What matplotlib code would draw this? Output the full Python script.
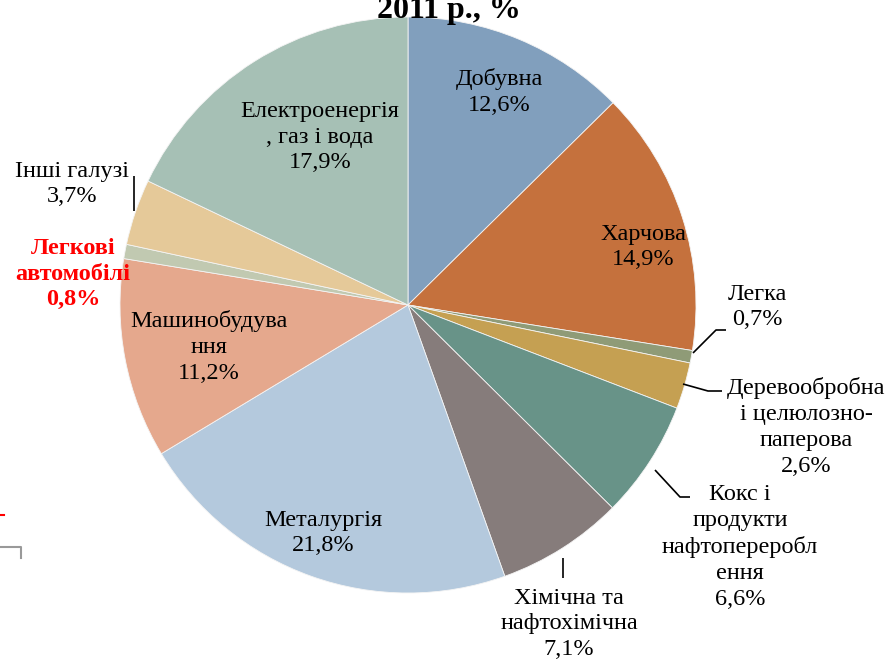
import matplotlib.pyplot as plt

plt.rcParams['font.family'] = ['Liberation Serif', 'DejaVu Serif']

W, H = 887, 661

# data
sectors = ["Добувна", "Харчова", "Легка", "Деревообробна\nі целюлозно-\nпаперова",
           "Кокс і\nпродукти\nнафтоперероблення", "Хімічна та\nнафтохімічна",
           "Металургія", "Машинобудування", "Легкові\nавтомобілі",
           "Інші галузі", "Електроенергія, газ і вода"]
shares = [12.6, 14.9, 0.7, 2.6, 6.6, 7.1, 21.8, 11.2, 0.8, 3.7, 17.9]
colors = ["#819FBD", "#C5713D", "#8F9B77", "#C5A052", "#689388", "#867C7B",
          "#B4C9DD", "#E5A88D", "#C1C9B1", "#E5C999", "#A6C0B5"]

# label text as laid out in the picture (with the word breaks of the original)
label_lines = ["Добувна", "Харчова", "Легка", "Деревообробна\nі целюлозно-\nпаперова",
               "Кокс і\nпродукти\nнафтопереробл\nення", "Хімічна та\nнафтохімічна",
               "Металургія", "Машинобудува\nння", "Легкові\nавтомобілі",
               "Інші галузі", "Електроенергія\n, газ і вода"]
# label centres in pixels (x, y from top)
label_pos = [(499, 92), (643, 247), (757, 307), (806, 427), (740, 547), (569, 624),
             (323, 533), (209, 347), (73, 274), (72, 184), (320, 137)]


def fy(y):
    return H - y


fig = plt.figure(figsize=(W / 100, H / 100), dpi=100)
ax = fig.add_axes([0, 0, 1, 1])

ax.pie(shares, colors=colors, startangle=90, counterclock=False,
       center=(408, fy(305)), radius=288, frame=True,
       wedgeprops=dict(edgecolor='#f4f4f4', linewidth=0.6))
ax.set_xlim(0, W)
ax.set_ylim(0, H)
ax.set_aspect('equal')
ax.axis('off')

for i, (txt, v) in enumerate(zip(label_lines, shares)):
    x, y = label_pos[i]
    s = txt + "\n" + ("%.1f%%" % v).replace(".", ",")
    if i == 8:
        ax.text(x, fy(y), s, ha='center', va='center', fontsize=17.5,
                color='red', fontweight='bold', linespacing=1.3)
    else:
        ax.text(x, fy(y), s, ha='center', va='center', fontsize=17.5,
                color='black', linespacing=1.3)

# leader lines
leaders = [
    [(693, 353), (716, 330), (726, 330)],
    [(683, 384), (708, 391), (722, 391)],
    [(655, 470), (680, 497), (690, 497)],
    [(563, 558), (563, 578)],
    [(134, 176), (134, 211)],
]
for pts in leaders:
    ax.plot([p[0] for p in pts], [fy(p[1]) for p in pts], color='black', lw=1.2,
            solid_capstyle='butt')

# title (cut off at the top of the picture, as in the original)
ax.text(449, fy(18), "2011 р., %", ha='center', va='baseline', fontsize=23,
        fontweight='bold', color='black')

# stray marks at the left edge
ax.plot([0, 4], [fy(515), fy(515)], color='red', lw=1.5)
ax.plot([0, 21, 21], [fy(547), fy(547), fy(558)], color='#999999', lw=1.5)

fig.savefig("out.png", dpi=100)
